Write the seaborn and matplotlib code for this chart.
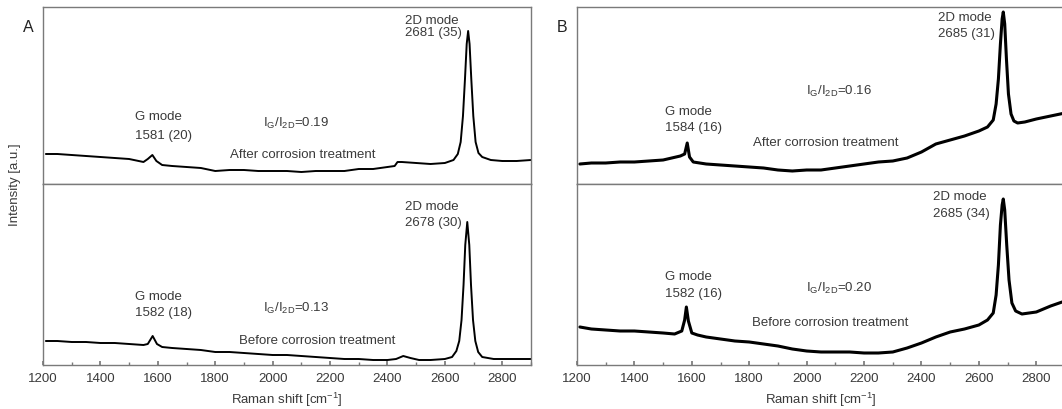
import numpy as np
import pandas as pd
import matplotlib
matplotlib.use("Agg")
import matplotlib.pyplot as plt
from matplotlib.ticker import MultipleLocator, NullLocator
import seaborn as sns

# ---------------- data ----------------
# Panel A, after corrosion treatment
a_after_x = [1210, 1250, 1300, 1350, 1400, 1450, 1500, 1550, 1565, 1581,
             1595, 1615, 1650, 1700, 1750, 1800, 1850, 1900, 1950, 2000,
             2050, 2100, 2150, 2200, 2250, 2300, 2350, 2400, 2425, 2435,
             2450, 2500, 2550, 2600, 2630, 2645, 2655, 2663, 2670, 2676,
             2681, 2686, 2692, 2699, 2707, 2717, 2730, 2760, 2800, 2850, 2900]
a_after_y = [30, 30, 29, 28, 27, 26, 25, 22, 25, 29,
             23, 19, 18, 17, 16, 13, 14, 14, 13, 13,
             13, 12, 13, 13, 13, 15, 15, 17, 18, 22,
             22, 21, 20, 21, 24, 30, 42, 68, 105, 140,
             153, 140, 105, 68, 42, 31, 27, 24, 23, 23, 24]

# Panel A, before corrosion treatment
a_before_x = [1210, 1250, 1300, 1350, 1400, 1450, 1500, 1550, 1565, 1582,
              1597, 1615, 1650, 1700, 1750, 1800, 1850, 1900, 1950, 2000,
              2050, 2100, 2150, 2200, 2250, 2300, 2350, 2400, 2430, 2455,
              2480, 2510, 2550, 2600, 2625, 2640, 2650, 2658, 2665, 2671,
              2678, 2685, 2691, 2698, 2706, 2716, 2730, 2750, 2770, 2800,
              2850, 2900]
a_before_y = [24, 24, 23, 23, 22, 22, 21, 20, 21, 29,
              21, 18, 17, 16, 15, 13, 13, 12, 11, 10,
              10, 9, 8, 7, 6, 6, 5, 5, 6, 9,
              7, 5, 5, 6, 8, 14, 24, 45, 80, 120,
              143, 120, 80, 45, 24, 13, 8, 7, 6, 6,
              6, 6]

# Panel B, after corrosion treatment
b_after_x = [1210, 1250, 1300, 1350, 1400, 1450, 1500, 1530, 1560, 1575,
             1584, 1592, 1605, 1650, 1700, 1750, 1800, 1850, 1900, 1950,
             2000, 2050, 2100, 2150, 2200, 2250, 2300, 2350, 2400, 2450,
             2500, 2550, 2600, 2630, 2650, 2660, 2668, 2675, 2681, 2685,
             2690, 2696, 2703, 2712, 2722, 2735, 2760, 2800, 2850, 2900]
b_after_y = [20, 21, 21, 22, 22, 23, 24, 26, 28, 30,
             41, 27, 22, 20, 19, 18, 17, 16, 14, 13,
             14, 14, 16, 18, 20, 22, 23, 26, 32, 40,
             44, 48, 53, 57, 64, 80, 105, 140, 165, 172,
             160, 125, 90, 70, 63, 61, 62, 65, 68, 71]

# Panel B, before corrosion treatment
b_before_x = [1210, 1250, 1300, 1350, 1400, 1450, 1500, 1540, 1565, 1575,
              1581, 1588, 1600, 1620, 1650, 1700, 1750, 1800, 1850, 1900,
              1950, 2000, 2050, 2100, 2150, 2200, 2250, 2300, 2350, 2400,
              2450, 2500, 2550, 2600, 2630, 2650, 2660, 2668, 2675, 2681,
              2685, 2690, 2697, 2705, 2715, 2728, 2750, 2800, 2850, 2900]
b_before_y = [38, 36, 35, 34, 34, 33, 32, 31, 34, 45,
              58, 44, 32, 30, 28, 26, 24, 23, 21, 19,
              16, 14, 13, 13, 13, 12, 12, 13, 17, 22,
              28, 33, 36, 40, 45, 52, 70, 100, 140, 160,
              166, 155, 120, 85, 62, 54, 51, 53, 59, 64]

# annotation texts
a_after_labels = ["G mode", "1581 (20)", "2D mode", "2681 (35)", r"I$_\mathregular{G}$/I$_\mathregular{2D}$=0.19", "After corrosion treatment"]
a_before_labels = ["G mode", "1582 (18)", "2D mode", "2678 (30)", r"I$_\mathregular{G}$/I$_\mathregular{2D}$=0.13", "Before corrosion treatment"]
b_after_labels = ["G mode", "1584 (16)", "2D mode", "2685 (31)", r"I$_\mathregular{G}$/I$_\mathregular{2D}$=0.16", "After corrosion treatment"]
b_before_labels = ["G mode", "1582 (16)", "2D mode", "2685 (34)", r"I$_\mathregular{G}$/I$_\mathregular{2D}$=0.20", "Before corrosion treatment"]

panel_letters = ["A", "B"]
xtick_values = [1200, 1400, 1600, 1800, 2000, 2200, 2400, 2600, 2800]

# ---------------- style ----------------
sns.set_theme(style="white")
plt.rcParams["font.family"] = ["Liberation Sans", "DejaVu Sans"]
plt.rcParams["mathtext.fontset"] = "custom"
plt.rcParams["mathtext.rm"] = "Liberation Sans"
plt.rcParams["mathtext.it"] = "Liberation Sans"

TXT = "#3a3a3a"
SPINE = "#7a7a7a"
FS = 9.5

fig = plt.figure(figsize=(10.62, 4.10), dpi=100)

W = 1062.0
H = 410.0


def ax_rect(x0, x1, y0, y1):
    return [x0 / W, 1 - y1 / H, (x1 - x0) / W, (y1 - y0) / H]


panels = [
    dict(left=43, right=531, top=(a_after_x, a_after_y, a_after_labels),
         bot=(a_before_x, a_before_y, a_before_labels), lw=1.4,
         top_pos=[(1522, 68), (1522, 49), (2460, 164), (2460, 152), (1967, 62), (1853, 30)],
         bot_pos=[(1522, 69), (1522, 53), (2460, 159), (2460, 143), (1967, 58), (1883, 25)]),
    dict(left=577, right=1065, top=(b_after_x, b_after_y, b_after_labels),
         bot=(b_before_x, b_before_y, b_before_labels), lw=2.2,
         top_pos=[(1507, 73), (1507, 57), (2457, 167), (2457, 151), (1997, 94), (1814, 42)],
         bot_pos=[(1507, 89), (1507, 72), (2439, 169), (2439, 152), (1997, 78), (1808, 43)]),
]

for pi, p in enumerate(panels):
    ax_top = fig.add_axes(ax_rect(p["left"], p["right"], 8, 185))
    ax_bot = fig.add_axes(ax_rect(p["left"], p["right"], 185, 366))
    for ax, key, posk, ymax in [(ax_top, "top", "top_pos", 177), (ax_bot, "bot", "bot_pos", 181)]:
        xs, ys, labels = p[key]
        df = pd.DataFrame({"shift": xs, "intensity": ys})
        sns.lineplot(data=df, x="shift", y="intensity", ax=ax, color="black",
                     linewidth=p["lw"], estimator=None, sort=True)
        ax.set_xlim(1200, 2900)
        ax.set_ylim(0, ymax)
        ax.set_ylabel("")
        ax.set_xlabel("")
        ax.yaxis.set_major_locator(NullLocator())
        ax.xaxis.set_major_locator(MultipleLocator(200))
        ax.xaxis.set_minor_locator(MultipleLocator(100))
        for s in ax.spines.values():
            s.set_color(SPINE)
            s.set_linewidth(1.0)
        for (tx, ty), lab in zip(p[posk], labels):
            ax.text(tx, ty, lab, fontsize=FS, color=TXT, ha="left", va="center")
    ax_top.tick_params(axis="x", which="both", bottom=False, labelbottom=False)
    ax_bot.set_xticks(xtick_values)
    ax_bot.tick_params(axis="x", which="major", bottom=True, direction="in", length=3,
                       color=SPINE, labelsize=FS, labelcolor=TXT, pad=5)
    ax_bot.tick_params(axis="x", which="minor", bottom=True, direction="in", length=2,
                       color=SPINE)
    ax_bot.set_xlabel("Raman shift [cm$^{-1}$]", fontsize=FS, color=TXT, labelpad=4)
    fig.text((p["left"] - 15) / W, 1 - 28 / H, panel_letters[pi], fontsize=11.5,
             color="#222222", ha="center", va="center")

fig.text(15 / W, 1 - 185 / H, "Intensity [a.u.]", rotation=90, fontsize=FS,
         color=TXT, ha="center", va="center")

fig.savefig("out.png", dpi=100)
